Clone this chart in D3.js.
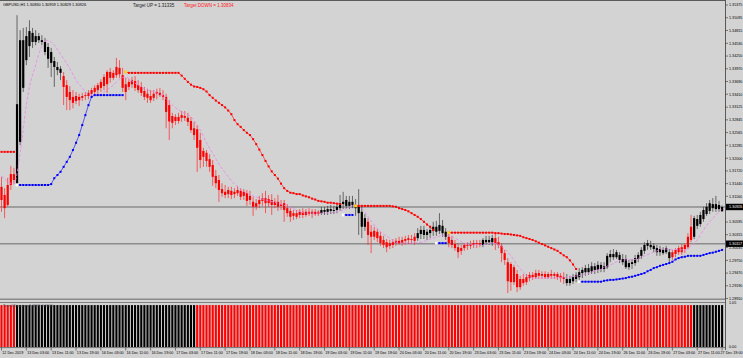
<!DOCTYPE html>
<html><head><meta charset="utf-8">
<script src="https://cdn.jsdelivr.net/npm/d3@7"></script>
<style>html,body{margin:0;padding:0;background:#d3d3d3;overflow:hidden}
text{font-family:"Liberation Sans",Arial,sans-serif}</style>
</head><body><svg id="c" width="743" height="358"></svg>
<script>
// ---------------- DATA ----------------
const symbolTitle = "GBPUSD,H1  1.30830 1.30959 1.30829 1.30926";
const targetUpLabel = "Target UP = 1.31335";
const targetDownLabel = "Target DOWN = 1.30834";
const indicatorLabel = "Trend Direction 1.0000 0.0000";

const priceTicks = ["1.35375","1.35095","1.34815","1.34530","1.34250","1.33970","1.33690","1.33410","1.33125","1.32845","1.32565","1.32285","1.32000","1.31720","1.31440","1.31160","1.30880","1.30595","1.30315","1.30035","1.29750","1.29470","1.29190","1.28910"];
const histTicks = ["1.05","0.00"];

const timeIdx = [0,8,16,24,32,40,48,56,64,72,80,88,96,104,112,120,128,136,144,152,160,168,176,184,192,200,208,216,224,232];
const timeText = ["12 Dec 2019","13 Dec 03:00","13 Dec 11:00","13 Dec 19:00","16 Dec 03:00","16 Dec 11:00","16 Dec 19:00","17 Dec 03:00","17 Dec 11:00","17 Dec 19:00","18 Dec 03:00","18 Dec 11:00","18 Dec 19:00","19 Dec 03:00","19 Dec 11:00","19 Dec 19:00","20 Dec 03:00","20 Dec 11:00","20 Dec 19:00","23 Dec 03:00","23 Dec 11:00","23 Dec 19:00","24 Dec 03:00","24 Dec 11:00","24 Dec 19:00","26 Dec 11:00","26 Dec 19:00","27 Dec 03:00","27 Dec 11:00","27 Dec 19:00"];

const open = [
1.3137,1.3119,1.3097,1.3141,1.3165,1.3145,1.3236,1.3355,1.3416,1.3447,
1.3476,1.3456,1.3469,1.3460,1.3456,1.3445,1.3434,1.3414,1.3401,1.3397,
1.3381,1.3361,1.3346,1.3335,1.3326,1.3335,1.3333,1.3337,1.3337,1.3342,
1.3346,1.3350,1.3355,1.3359,1.3363,1.3377,1.3388,1.3383,1.3399,1.3383,
1.3363,1.3357,1.3363,1.3370,1.3361,1.3357,1.3348,1.3342,1.3337,1.3333,
1.3342,1.3344,1.3339,1.3335,1.3317,1.3278,1.3291,1.3282,1.3289,1.3293,
1.3289,1.3282,1.3266,1.3264,1.3240,1.3203,1.3212,1.3198,1.3185,1.3161,
1.3152,1.3132,1.3126,1.3121,1.3128,1.3121,1.3123,1.3128,1.3117,1.3123,
1.3108,1.3104,1.3093,1.3099,1.3106,1.3112,1.3101,1.3108,1.3097,1.3104,
1.3095,1.3101,1.3090,1.3084,1.3073,1.3079,1.3075,1.3082,1.3075,1.3082,
1.3077,1.3082,1.3077,1.3079,1.3086,1.3082,1.3088,1.3084,1.3086,1.3090,
1.3099,1.3095,1.3104,1.3097,1.3097,1.3093,1.3082,1.3049,1.3060,1.3038,
1.3027,1.3038,1.3029,1.3020,1.3015,1.3007,1.3009,1.3013,1.3018,1.3013,
1.3018,1.3020,1.3022,1.3018,1.3024,1.3033,1.3042,1.3031,1.3035,1.3040,
1.3049,1.3040,1.3051,1.3038,1.3027,1.3020,1.3011,1.3004,1.2996,1.3002,
1.3007,1.3007,1.3009,1.3011,1.3013,1.3009,1.3015,1.3020,1.3015,1.3024,
1.3015,1.3007,1.2991,1.2971,1.2927,1.2960,1.2945,1.2916,1.2934,1.2927,
1.2936,1.2943,1.2938,1.2947,1.2941,1.2945,1.2938,1.2945,1.2941,1.2945,
1.2941,1.2938,1.2934,1.2925,1.2929,1.2934,1.2938,1.2947,1.2949,1.2958,
1.2951,1.2962,1.2954,1.2965,1.2956,1.2960,1.2982,1.2989,1.2982,1.2987,
1.2978,1.2978,1.2960,1.2967,1.2969,1.2978,1.2985,1.2996,1.3007,1.3009,
1.3007,1.3002,1.2993,1.2998,1.2993,1.2993,1.2982,1.2989,1.2993,1.2993,
1.3000,1.3004,1.3020,1.3027,1.3051,1.3055,1.3066,1.3077,1.3084,1.3099,
1.3088,1.3097,1.30830];
const high = [
1.3159,1.3134,1.3157,1.3183,1.3179,1.3515,1.3482,1.3487,1.3489,1.3504,
1.3487,1.3482,1.3476,1.3471,1.3465,1.3454,1.3443,1.3423,1.3412,1.3403,
1.3390,1.3372,1.3359,1.3350,1.3346,1.3342,1.3344,1.3346,1.3350,1.3355,
1.3361,1.3366,1.3374,1.3385,1.3394,1.3399,1.3394,1.3421,1.3416,1.3399,
1.3377,1.3374,1.3379,1.3381,1.3372,1.3368,1.3357,1.3353,1.3350,1.3350,
1.3353,1.3355,1.3350,1.3342,1.3328,1.3300,1.3297,1.3300,1.3304,1.3304,
1.3300,1.3291,1.3280,1.3273,1.3256,1.3223,1.3218,1.3209,1.3196,1.3174,
1.3163,1.3145,1.3141,1.3137,1.3137,1.3134,1.3139,1.3134,1.3132,1.3130,
1.3128,1.3115,1.3110,1.3117,1.3123,1.3128,1.3119,1.3121,1.3112,1.3119,
1.3108,1.3108,1.3099,1.3093,1.3086,1.3086,1.3088,1.3090,1.3088,1.3090,
1.3088,1.3088,1.3086,1.3093,1.3093,1.3095,1.3097,1.3095,1.3101,1.3119,
1.3126,1.3117,1.3117,1.3117,1.3110,1.3132,1.3097,1.3077,1.3068,1.3053,
1.3049,1.3044,1.3038,1.3029,1.3022,1.3020,1.3022,1.3024,1.3027,1.3027,
1.3029,1.3031,1.3031,1.3035,1.3046,1.3051,1.3051,1.3044,1.3051,1.3060,
1.3062,1.3079,1.3064,1.3046,1.3038,1.3029,1.3020,1.3013,1.3009,1.3013,
1.3015,1.3018,1.3020,1.3020,1.3020,1.3024,1.3029,1.3029,1.3031,1.3035,
1.3027,1.3013,1.2998,1.2980,1.2971,1.2965,1.2954,1.2941,1.2945,1.2945,
1.2949,1.2949,1.2954,1.2954,1.2951,1.2951,1.2949,1.2954,1.2949,1.2949,
1.2947,1.2949,1.2945,1.2941,1.2945,1.2949,1.2958,1.2960,1.2965,1.2967,
1.2971,1.2969,1.2973,1.2971,1.2971,1.2991,1.2998,1.3000,1.2998,1.2993,
1.2989,1.2987,1.2976,1.2978,1.2987,1.2993,1.3004,1.3015,1.3020,1.3018,
1.3013,1.3009,1.3007,1.3004,1.3007,1.3000,1.2998,1.3002,1.3007,1.3011,
1.3013,1.3035,1.3075,1.3073,1.3075,1.3082,1.3093,1.3101,1.3108,1.3112,
1.3117,1.3106,1.30959];
const low = [
1.3082,1.3068,1.3093,1.3130,1.3143,1.3139,1.3229,1.3346,1.3405,1.3423,
1.3443,1.3449,1.3454,1.3449,1.3427,1.3399,1.3379,1.3357,1.3383,1.3372,
1.3317,1.3306,1.3306,1.3310,1.3319,1.3315,1.3326,1.3328,1.3330,1.3335,
1.3339,1.3342,1.3346,1.3350,1.3344,1.3366,1.3372,1.3377,1.3377,1.3346,
1.3328,1.3350,1.3355,1.3348,1.3344,1.3337,1.3328,1.3322,1.3322,1.3326,
1.3330,1.3335,1.3328,1.3266,1.3240,1.3266,1.3273,1.3276,1.3280,1.3282,
1.3271,1.3256,1.3240,1.3170,1.3178,1.3181,1.3181,1.3170,1.3139,1.3134,
1.3104,1.3115,1.3112,1.3112,1.3110,1.3112,1.3117,1.3108,1.3108,1.3095,
1.3097,1.3073,1.3086,1.3090,1.3095,1.3079,1.3093,1.3075,1.3090,1.3084,
1.3086,1.3060,1.3071,1.3060,1.3064,1.3066,1.3068,1.3068,1.3071,1.3073,
1.3068,1.3073,1.3073,1.3075,1.3075,1.3075,1.3077,1.3077,1.3079,1.3084,
1.3088,1.3088,1.3088,1.3090,1.3073,1.3031,1.3024,1.3040,1.3009,1.2991,
1.3020,1.3015,1.3007,1.3002,1.2993,1.3000,1.3002,1.3007,1.3009,1.3007,
1.3009,1.3011,1.3011,1.3009,1.3018,1.3022,1.3022,1.3020,1.3024,1.3029,
1.3029,1.3033,1.3027,1.3020,1.3004,1.3002,1.2996,1.2980,1.2987,1.2996,
1.2998,1.3000,1.3002,1.3002,1.3004,1.3004,1.3009,1.3009,1.3007,1.2998,
1.3002,1.2971,1.2965,1.2903,1.2908,1.2921,1.2905,1.2910,1.2919,1.2921,
1.2929,1.2932,1.2934,1.2934,1.2934,1.2934,1.2934,1.2934,1.2934,1.2932,
1.2927,1.2923,1.2919,1.2919,1.2923,1.2927,1.2932,1.2936,1.2941,1.2943,
1.2945,1.2945,1.2947,1.2949,1.2949,1.2956,1.2971,1.2976,1.2978,1.2969,
1.2965,1.2956,1.2954,1.2956,1.2963,1.2971,1.2978,1.2989,1.2998,1.2998,
1.2993,1.2985,1.2985,1.2987,1.2989,1.2971,1.2976,1.2982,1.2987,1.2987,
1.2991,1.3000,1.3015,1.3022,1.3044,1.3049,1.3060,1.3073,1.3077,1.3082,
1.3082,1.3082,1.30829];
const close = [
1.3108,1.3090,1.3141,1.3165,1.3152,1.3319,1.3460,1.3460,1.3469,1.3480,
1.3456,1.3469,1.3460,1.3456,1.3434,1.3419,1.3410,1.3401,1.3394,1.3388,
1.3357,1.3335,1.3328,1.3322,1.3337,1.3328,1.3337,1.3339,1.3344,1.3350,
1.3355,1.3361,1.3368,1.3379,1.3390,1.3390,1.3377,1.3401,1.3385,1.3355,
1.3346,1.3368,1.3372,1.3355,1.3350,1.3344,1.3335,1.3333,1.3328,1.3342,
1.3346,1.3339,1.3335,1.3302,1.3281,1.3293,1.3282,1.3291,1.3295,1.3289,
1.3280,1.3262,1.3251,1.3223,1.3196,1.3216,1.3194,1.3181,1.3159,1.3145,
1.3130,1.3123,1.3119,1.3130,1.3119,1.3126,1.3130,1.3115,1.3126,1.3106,
1.3117,1.3093,1.3101,1.3108,1.3112,1.3101,1.3110,1.3097,1.3104,1.3093,
1.3099,1.3086,1.3079,1.3071,1.3079,1.3071,1.3082,1.3075,1.3082,1.3077,
1.3082,1.3077,1.3082,1.3086,1.3082,1.3088,1.3084,1.3086,1.3093,1.3101,
1.3104,1.3108,1.3095,1.3104,1.3090,1.3079,1.3049,1.3068,1.3031,1.3027,
1.3040,1.3024,1.3013,1.3009,1.3004,1.3013,1.3015,1.3018,1.3013,1.3020,
1.3022,1.3024,1.3020,1.3027,1.3035,1.3042,1.3031,1.3038,1.3042,1.3049,
1.3038,1.3053,1.3035,1.3027,1.3013,1.3009,1.3002,1.2993,1.3002,1.3009,
1.3009,1.3011,1.3013,1.3013,1.3009,1.3020,1.3020,1.3015,1.3024,1.3013,
1.3009,1.2991,1.2976,1.2929,1.2967,1.2927,1.2916,1.2934,1.2925,1.2938,
1.2943,1.2938,1.2947,1.2941,1.2945,1.2938,1.2945,1.2941,1.2945,1.2938,
1.2936,1.2934,1.2925,1.2934,1.2938,1.2943,1.2949,1.2954,1.2958,1.2949,
1.2962,1.2954,1.2965,1.2956,1.2962,1.2985,1.2989,1.2982,1.2993,1.2976,
1.2971,1.2960,1.2969,1.2971,1.2980,1.2987,1.2998,1.3009,1.3013,1.3004,
1.3000,1.2993,1.3000,1.2991,1.3002,1.2980,1.2993,1.2998,1.3002,1.3004,
1.3009,1.3027,1.3049,1.3068,1.3066,1.3075,1.3086,1.3093,1.3101,1.3090,
1.3099,1.3088,1.30926];

// candle colour state (run lengths) and trend histogram state (run lengths)
const candleTrendRuns = [["r",5],["b",15],["r",83],["b",15],["r",16],["b",10],["r",11],["b",4],["r",23],["b",34],["r",7],["b",10]];
const histogramRuns = [["r",5],["b",58],["r",160],["b",10]];
const histogramValue = 1;

// dashed moving average, read at bar indices
const maIdx = [0,2,4,6,8,9,11,12,14,15,16,18,19,21,23,24,26,27,29,31,33,36,38,40,42,46,49,52,55,58,61,64,66,68,70,73,75,77,79,83,89,95,98,104,110,114,116,118,120,122,125,127,130,135,139,143,146,149,154,158,162,164,166,168,171,177,182,187,192,196,200,203,207,210,213,220,222,224,226,228,230,232];
const maVal = [1.3161,1.3148,1.3143,1.3211,1.3317,1.3357,1.3405,1.3429,1.3458,1.3460,1.3456,1.3440,1.3429,1.3409,1.3385,1.3372,1.3355,1.3346,1.3339,1.3339,1.3346,1.3361,1.3374,1.3379,1.3370,1.3353,1.3346,1.3337,1.3317,1.3302,1.3291,1.3262,1.3234,1.3211,1.3187,1.3159,1.3143,1.3132,1.3123,1.3112,1.3101,1.3086,1.3079,1.3079,1.3086,1.3097,1.3090,1.3071,1.3053,1.3038,1.3024,1.3015,1.3013,1.3015,1.3024,1.3031,1.3024,1.3013,1.3009,1.3013,1.3000,1.2985,1.2965,1.2949,1.2936,1.2936,1.2938,1.2943,1.2954,1.2965,1.2976,1.2976,1.2985,1.2993,1.3000,1.2998,1.3007,1.3020,1.3042,1.3060,1.3075,1.3090];

// blue (support) dotted trailing line segments
const blueStarts = [5,110,140,186];
const blueVals = [
 [1.3141,1.3141,1.3141,1.3141,1.3141,1.3141,1.3141,1.3141,1.3141,1.3141,1.3141,1.3143,1.3156,1.3163,1.3170,1.3181,1.3192,1.3203,1.3218,1.3234,1.3251,1.3273,1.3295,1.3317,1.3335,1.3339,1.3339,1.3339,1.3339,1.3339,1.3339,1.3339,1.3339,1.3339,1.3339],
 [1.3075,1.3075,1.3075,1.3075],
 [1.3013,1.3013,1.3013,1.3013],
 [1.2928,1.2928,1.2928,1.2928,1.2928,1.2928,1.2928,1.2928,1.2930,1.2931,1.2932,1.2932,1.2933,1.2934,1.2935,1.2936,1.2938,1.2939,1.2941,1.2943,1.2945,1.2947,1.2951,1.2954,1.2958,1.2960,1.2963,1.2965,1.2967,1.2969,1.2972,1.2977,1.2980,1.2982,1.2983,1.2985,1.2985,1.2985,1.2985,1.2985,1.2987,1.2989,1.2991,1.2992,1.2994,1.2996,1.2998]
];
// red (resistance) dotted trailing line segments
const redStarts = [0,40,114,144];
const redVals = [
 [1.3214,1.3214,1.3214,1.3214,1.3214],
 [1.3390,1.3388,1.3388,1.3388,1.3388,1.3388,1.3388,1.3388,1.3388,1.3388,1.3388,1.3388,1.3388,1.3388,1.3388,1.3388,1.3388,1.3388,1.3382,1.3375,1.3368,1.3362,1.3358,1.3357,1.3355,1.3352,1.3347,1.3339,1.3333,1.3327,1.3322,1.3317,1.3312,1.3305,1.3297,1.3284,1.3275,1.3269,1.3262,1.3256,1.3251,1.3242,1.3231,1.3219,1.3207,1.3194,1.3182,1.3171,1.3163,1.3155,1.3144,1.3134,1.3128,1.3124,1.3123,1.3121,1.3121,1.3118,1.3116,1.3114,1.3111,1.3109,1.3106,1.3105,1.3104,1.3102,1.3102,1.3101,1.3100,1.3099],
 [1.3095,1.3095,1.3095,1.3095,1.3095,1.3095,1.3095,1.3095,1.3095,1.3095,1.3095,1.3095,1.3094,1.3093,1.3090,1.3088,1.3086,1.3083,1.3079,1.3075,1.3071,1.3066,1.3060,1.3054,1.3049,1.3042],
 [1.3036,1.3036,1.3036,1.3036,1.3036,1.3036,1.3036,1.3036,1.3036,1.3036,1.3036,1.3036,1.3036,1.3036,1.3036,1.3035,1.3035,1.3034,1.3033,1.3033,1.3032,1.3031,1.3030,1.3029,1.3026,1.3024,1.3022,1.3020,1.3017,1.3014,1.3011,1.3008,1.3005,1.3002,1.2999,1.2996,1.2991,1.2986,1.2982,1.2975,1.2966,1.2956]
];

const hLineVals = [1.30926, 1.30117];
const hLineTexts = ["1.30926", "1.30117"];

// ---------------- DRAW ----------------
const svg = d3.select("#c");
const BG = "#d3d3d3", AX = 725;
svg.append("rect").attr("width",743).attr("height",358).attr("fill",BG);

const nBars = open.length;
const x = d3.scaleLinear().domain([0, nBars-1]).range([1.5, 722.1]);
const y = d3.scaleLinear().domain([1.28910, 1.35375]).range([298.5, 5]);
const yh = d3.scaleLinear().domain([0, 1.05]).range([347, 303]);

const expandRuns = runs => runs.flatMap(([c,n]) => d3.range(n).map(() => c));
const candleCol = expandRuns(candleTrendRuns);
const histCol = expandRuns(histogramRuns);

const defs = svg.append("defs");
defs.append("clipPath").attr("id","clipMain").append("rect").attr("x",0).attr("y",1).attr("width",AX).attr("height",298);
defs.append("clipPath").attr("id","clipInd").append("rect").attr("x",0).attr("y",303).attr("width",AX).attr("height",44);

// frame lines
svg.append("line").attr("x1",0).attr("x2",AX).attr("y1",0.5).attr("y2",0.5).attr("stroke","#5a5a5a").attr("stroke-width",1);
svg.append("line").attr("x1",0).attr("x2",AX).attr("y1",299.3).attr("y2",299.3).attr("stroke","#8a8a8a").attr("stroke-width",1.6);
svg.append("line").attr("x1",0).attr("x2",AX).attr("y1",302.5).attr("y2",302.5).attr("stroke","#6a6a6a").attr("stroke-width",0.8);
svg.append("line").attr("x1",0).attr("x2",AX).attr("y1",347.6).attr("y2",347.6).attr("stroke","#5a5a5a").attr("stroke-width",0.8);
svg.append("line").attr("x1",AX+0.5).attr("x2",AX+0.5).attr("y1",0).attr("y2",350).attr("stroke","#5a5a5a").attr("stroke-width",1);

// horizontal price lines
const gMain = svg.append("g").attr("clip-path","url(#clipMain)");
gMain.selectAll("line.h").data(hLineVals).join("line")
  .attr("x1",0).attr("x2",AX).attr("y1",d=>y(d)).attr("y2",d=>y(d))
  .attr("stroke","#8c8c8c").attr("stroke-width",1.6);

// candles
const idx = d3.range(nBars);
gMain.selectAll("line.wick").data(idx).join("line")
  .attr("x1",i=>x(i)).attr("x2",i=>x(i))
  .attr("y1",i=>y(high[i])).attr("y2",i=>y(low[i]))
  .attr("stroke",i=>candleCol[i]==="r"?"#ff3030":"#404040")
  .attr("stroke-width",0.75);
gMain.selectAll("rect.body").data(idx).join("rect")
  .attr("x",i=>x(i)-1.1).attr("width",2.2)
  .attr("y",i=>y(Math.max(open[i],close[i])))
  .attr("height",i=>Math.max(y(Math.min(open[i],close[i]))-y(Math.max(open[i],close[i])),0.9))
  .attr("fill",i=>candleCol[i]==="r"?"#ff0000":"#000000");

// moving average (dashed violet)
const maLine = d3.line().x(d=>x(d[0])).y(d=>y(d[1])).curve(d3.curveMonotoneX);
gMain.append("path").datum(maIdx.map((d,k)=>[d,maVal[k]]))
  .attr("d",maLine).attr("fill","none").attr("stroke","#ee82ee")
  .attr("stroke-width",0.8).attr("stroke-dasharray","3,1.8");

// dotted trailing lines
function drawDots(starts, vals, color, markColor){
  starts.forEach((s,k)=>{
    const pts = vals[k].map((v,j)=>[s+j, v]);
    gMain.append("path").datum(pts)
      .attr("d", d3.line().x(d=>x(d[0])).y(d=>y(d[1])))
      .attr("fill","none").attr("stroke",color).attr("stroke-width",0.6);
    gMain.selectAll(null).data(pts).join("rect")
      .attr("x",d=>x(d[0])-1).attr("y",d=>y(d[1])-1)
      .attr("width",2).attr("height",2).attr("fill",color);
    if (s > 0) {
      gMain.append("rect").attr("x",x(s)-1.4).attr("y",y(pts[0][1])-1.4)
        .attr("width",2.8).attr("height",2.8).attr("fill",markColor);
    }
  });
}
drawDots(redStarts, redVals, "#ff0000", "#ffd21f");
drawDots(blueStarts, blueVals, "#0000ff", "#ffffff");

// indicator histogram
const gInd = svg.append("g").attr("clip-path","url(#clipInd)");
gInd.selectAll("rect.hb").data(idx).join("rect")
  .attr("x",i=>x(i)-1.05).attr("width",2.1)
  .attr("y",yh(histogramValue)).attr("height",yh(0)-yh(histogramValue))
  .attr("fill",i=>histCol[i]==="r"?"#ff0000":"#000000");

// right price axis
const FS = 3.7;
const gAx = svg.append("g");
const boxYs = hLineVals.map(v=>y(v));
priceTicks.forEach(t=>{
  const yy = y(+t);
  gAx.append("line").attr("x1",AX+0.5).attr("x2",AX+3).attr("y1",yy).attr("y2",yy).attr("stroke","#333").attr("stroke-width",0.6);
  // labels hidden behind the current-price boxes (as in the terminal) are not drawn
  if (boxYs.some(b=>Math.abs(b-yy) < 3.3)) return;
  gAx.append("text").attr("x",AX+4).attr("y",yy).attr("dy","0.35em")
    .attr("font-size",FS).attr("fill","#000").text(t);
});
histTicks.forEach(t=>{
  const yy = yh(+t);
  gAx.append("text").attr("x",AX+4).attr("y",yy).attr("dy","0.35em")
    .attr("font-size",FS).attr("fill","#000").text(t);
});
// price boxes
hLineVals.forEach((v,k)=>{
  const yy = y(v);
  gAx.append("rect").attr("x",AX+1).attr("y",yy-3.2).attr("width",743-AX-1).attr("height",6.4).attr("fill","#000");
  gAx.append("text").attr("x",AX+4).attr("y",yy).attr("dy","0.35em")
    .attr("font-size",FS).attr("fill","#fff").text(hLineTexts[k]);
});

// time axis
timeIdx.forEach((b,k)=>{
  const xx = x(b);
  svg.append("line").attr("x1",xx).attr("x2",xx).attr("y1",347.6).attr("y2",350.5).attr("stroke","#333").attr("stroke-width",0.6);
  const t = svg.append("text").attr("x",xx+0.8).attr("y",354.3).attr("font-size",FS).attr("fill","#000").text(timeText[k]);
  const w = t.node().getComputedTextLength();
  if (xx + 0.8 + w > 742.5) t.attr("x", 742.5 - w);
});

// titles
svg.append("text").attr("x",3).attr("y",5.6).attr("font-size",3.9).attr("fill","#000").text(symbolTitle);
svg.append("text").attr("x",133).attr("y",6.6).attr("font-size",4.5).attr("fill","#222").text(targetUpLabel);
svg.append("text").attr("x",184).attr("y",6.6).attr("font-size",4.5).attr("fill","#ff2020").text(targetDownLabel);
svg.append("text").attr("x",3).attr("y",307).attr("font-size",3.7).attr("fill","#444").text(indicatorLabel);
</script>
</body></html>
